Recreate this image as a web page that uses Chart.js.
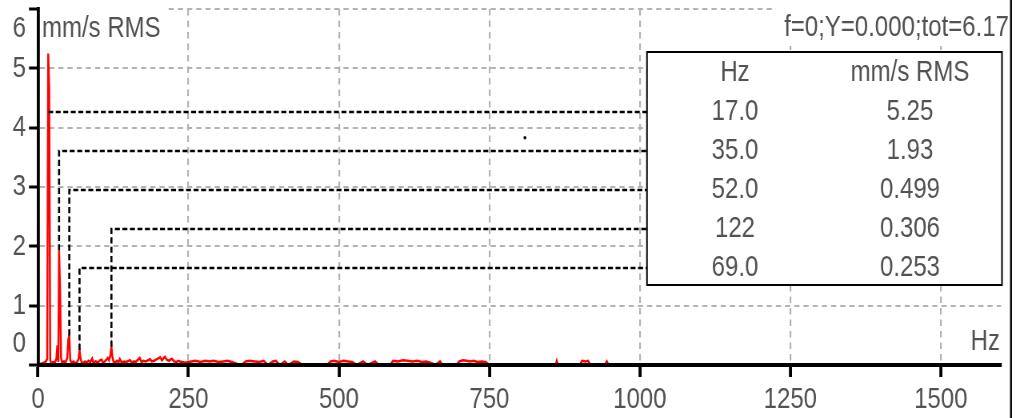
<!DOCTYPE html>
<html>
<head>
<meta charset="utf-8">
<script src="https://cdn.jsdelivr.net/npm/chart.js@4/dist/chart.umd.min.js"></script>
<style>
  html, body { margin: 0; padding: 0; background: #ffffff; overflow: hidden; }
  #wrap { width: 1016px; height: 418px; position: relative; overflow: hidden; }
  /* the original screenshot is horizontally condensed: draw wider, then squeeze */
  #c { display: block; transform: scaleX(0.8); transform-origin: 0 0; }
</style>
</head>
<body>
<div id="wrap"><canvas id="c" width="1270" height="418"></canvas></div>
<script>
// ---- data ----
const freqHz = [
  0, 5, 10, 13, 15.3, 17, 18.6, 20.3, 22, 25, 28, 30.5, 32.2, 33.8, 35, 36.6, 38.3, 40, 43, 46,
  48.6, 50.3, 52, 53.6, 56, 59, 62, 65, 67.3, 69, 70.6, 72.3, 75, 78, 81, 84, 87, 90, 92, 96,
  100, 103, 106, 108, 112, 116, 118, 120, 122, 123.6, 125.3, 128, 131, 134, 136, 139, 143, 147, 150, 153,
  156, 159, 162, 166, 169, 172, 175, 179, 183, 186, 189, 193, 196, 200, 203, 206, 209, 211, 214, 218,
  221, 223, 226, 230, 233, 236, 240, 245, 250, 255, 262, 270, 278, 285, 292, 300, 308, 315, 322, 330,
  338, 345, 352, 360, 368, 375, 382, 390, 395, 402, 410, 416, 425, 432, 440, 480, 486, 492, 500, 508,
  515, 522, 530, 540, 548, 560, 566, 585, 590, 598, 606, 614, 622, 630, 638, 645, 652, 660, 668, 672,
  695, 700, 706, 712, 718, 724, 730, 737, 744, 750, 860, 862, 864, 900, 904, 910, 914, 918, 942, 945,
  948, 1600
];
const rmsValues = [
  0, 0.02, 0.04, 0.06, 0.1, 5.25, 4.66, 0.08, 0.03, 0.05, 0.04, 0.1, 0.33, 0.05, 1.93, 1.31, 0.12, 0.04, 0.06, 0.05,
  0.12, 0.42, 0.499, 0.08, 0.04, 0.06, 0.03, 0.05, 0.1, 0.253, 0.12, 0.05, 0.03, 0.06, 0.04, 0.07, 0.05, 0.11, 0.04, 0.06,
  0.04, 0.08, 0.09, 0.03, 0.07, 0.12, 0.08, 0.15, 0.306, 0.14, 0.06, 0.04, 0.07, 0.05, 0.1, 0.04, 0.06, 0.05, 0.07, 0.08,
  0.04, 0.06, 0.05, 0.09, 0.12, 0.05, 0.07, 0.06, 0.08, 0.1, 0.06, 0.07, 0.09, 0.11, 0.13, 0.08, 0.12, 0.14, 0.09, 0.07,
  0.1, 0.1, 0.06, 0.05, 0.07, 0.06, 0.05, 0.04, 0.05, 0.06, 0.07, 0.05, 0.07, 0.06, 0.07, 0.05, 0.06, 0.07, 0.05, 0.02,
  0, 0.06, 0.07, 0.06, 0.05, 0.07, 0, 0.06, 0.07, 0, 0.06, 0, 0.06, 0.05, 0, 0, 0.06, 0.07, 0.05, 0.07,
  0.06, 0.05, 0, 0.06, 0, 0.06, 0, 0, 0.07, 0.06, 0.08, 0.07, 0.06, 0.07, 0.05, 0.06, 0.04, 0, 0.06, 0,
  0, 0.06, 0.08, 0.07, 0.06, 0.07, 0.05, 0.06, 0.05, 0, 0, 0.07, 0, 0, 0.07, 0.06, 0.07, 0, 0, 0.06,
  0, 0
];
// peak table (Hz, mm/s RMS)
const peakHzLabels  = ["17.0", "35.0", "52.0", "122", "69.0"];
const peakRmsLabels = ["5.25", "1.93", "0.499", "0.306", "0.253"];
const peakHz  = [17.0, 35.0, 52.0, 122, 69.0];
const peakRms = [5.25, 1.93, 0.499, 0.306, 0.253];
const tableHeaders = ["Hz", "mm/s RMS"];
// cursor dot
const cursorHz = [809];
const cursorRms = [3.83];
// axis ticks & labels
const xTicks = [0, 250, 500, 750, 1000, 1250, 1500];
const yTicks = [0, 1, 2, 3, 4, 5, 6];
const yUnitLabel = "mm/s RMS";
const xUnitLabel = "Hz";
const statusText = "f=0;Y=0.000;tot=6.17";

// ---- styling ----
const SX = 0.8;                 // horizontal squeeze applied by CSS
const X = v => v / SX;          // screen x -> canvas x
const FONT = "'Liberation Sans', Arial, sans-serif";
const FSIZE = 30;
const TXT = '#525252';
const GRID = '#b3b3b3';

const overlay = {
  id: 'overlay',
  afterDraw(chart) {
    const ctx = chart.ctx;
    const xs = chart.scales.x, ys = chart.scales.y;
    ctx.save();
    // white backing for corner texts
    ctx.fillStyle = '#ffffff';
    ctx.fillRect(X(40), 0, X(128), 46);
    ctx.fillRect(X(776), 0, X(232), 46);

    ctx.font = FSIZE + 'px ' + FONT;
    ctx.fillStyle = TXT;
    ctx.textBaseline = 'middle';
    // y labels at the ends (shifted inside like the original)
    ctx.textAlign = 'right';
    ctx.fillText(String(yTicks[yTicks.length - 1]), X(26), ys.getPixelForValue(yTicks[yTicks.length - 1]) + 20);
    ctx.fillText(String(yTicks[0]), X(26), ys.getPixelForValue(yTicks[0]) - 21);
    // unit labels
    ctx.textAlign = 'left';
    ctx.fillText(yUnitLabel, X(42), 29);
    ctx.textAlign = 'right';
    ctx.fillText(statusText, X(1009), 28);
    ctx.fillText(xUnitLabel, X(1000), 342);

    // table
    const tL = X(647), tR = X(1002), tT = 52, tB = 285;
    const rowY0 = 73, rowH = 39;
    const col1 = X(735), col2 = X(910);

    // marker lines from peaks to table rows
    ctx.strokeStyle = '#000000';
    ctx.lineWidth = 2.6;
    ctx.setLineDash([6.2, 3.2]);
    for (let i = 0; i < peakHz.length; i++) {
      const px = xs.getPixelForValue(peakHz[i]);
      const py = ys.getPixelForValue(peakRms[i]);
      const ry = rowY0 + rowH * (i + 1);
      ctx.beginPath();
      if (py > ry) {
        ctx.moveTo(px, py);
        ctx.lineTo(px, ry);
      } else {
        ctx.moveTo(px, ry);
      }
      ctx.lineTo(tL, ry);
      ctx.stroke();
    }
    ctx.setLineDash([]);

    ctx.fillStyle = '#ffffff';
    ctx.fillRect(tL, tT, tR - tL, tB - tT);
    ctx.strokeStyle = '#000000';
    ctx.lineWidth = 2;
    ctx.strokeRect(tL, tT, tR - tL, tB - tT);

    ctx.fillStyle = TXT;
    ctx.textAlign = 'center';
    ctx.fillText(tableHeaders[0], col1, rowY0);
    ctx.fillText(tableHeaders[1], col2, rowY0);
    for (let i = 0; i < peakHzLabels.length; i++) {
      const ry = rowY0 + rowH * (i + 1);
      ctx.fillText(peakHzLabels[i], col1, ry);
      ctx.fillText(peakRmsLabels[i], col2, ry);
    }

    // right window border
    ctx.strokeStyle = '#000000';
    ctx.lineWidth = 2.4;
    ctx.beginPath();
    ctx.moveTo(X(1011), 0);
    ctx.lineTo(X(1011), 418);
    ctx.stroke();
    ctx.restore();
  }
};

const spectrum = freqHz.map((f, i) => ({ x: f, y: rmsValues[i] }));
const cursor = cursorHz.map((f, i) => ({ x: f, y: cursorRms[i] }));

new Chart(document.getElementById('c'), {
  type: 'line',
  data: {
    datasets: [
      {
        label: 'Spectrum',
        data: spectrum,
        borderColor: '#ff0000',
        backgroundColor: '#ff0000',
        borderWidth: 2.5,
        pointRadius: 0,
        tension: 0,
        fill: false
      },
      {
        type: 'scatter',
        label: 'Cursor',
        data: cursor,
        pointRadius: 1.8,
        pointBackgroundColor: '#000000',
        pointBorderWidth: 0,
        showLine: false
      }
    ]
  },
  options: {
    responsive: false,
    devicePixelRatio: 1,
    animation: false,
    events: [],
    layout: { padding: { top: 9, right: X(1016 - 1001), left: 0, bottom: 0 } },
    plugins: { legend: { display: false }, tooltip: { enabled: false } },
    scales: {
      x: {
        type: 'linear',
        min: 0,
        max: 1600,
        afterBuildTicks(s) { s.ticks = xTicks.map(v => ({ value: v })); },
        afterFit(s) { s.height = 53; s.paddingLeft = 0; s.paddingRight = 0; },
        ticks: {
          stepSize: 250,
          includeBounds: false,
          autoSkip: false,
          maxRotation: 0,
          padding: 5,
          color: TXT,
          font: { family: FONT, size: FSIZE },
          callback: (v) => String(v)
        },
        grid: {
          color: GRID,
          lineWidth: 2.2,
          drawTicks: true,
          tickLength: 12,
          tickColor: '#000000',
          tickWidth: 3.8,
          tickBorderDash: []
        },
        border: { display: true, color: '#000000', width: 4, dash: [6.5, 5], z: 1 }
      },
      y: {
        type: 'linear',
        min: 0,
        max: 6,
        afterBuildTicks(s) { s.ticks = yTicks.map(v => ({ value: v })); },
        afterFit(s) { s.width = X(38); s.paddingTop = 0; s.paddingBottom = 0; },
        ticks: {
          stepSize: 1,
          autoSkip: false,
          padding: X(3),
          color: TXT,
          font: { family: FONT, size: FSIZE },
          callback: (v) => (v === yTicks[0] || v === yTicks[yTicks.length - 1]) ? '' : String(v)
        },
        grid: {
          color: GRID,
          lineWidth: 2,
          drawTicks: true,
          tickLength: X(9),
          tickColor: '#000000',
          tickWidth: 3,
          tickBorderDash: []
        },
        border: { display: true, color: '#000000', width: 3.8, dash: [6.5, 5], z: 1 }
      }
    }
  },
  plugins: [overlay]
});
</script>
</body>
</html>
